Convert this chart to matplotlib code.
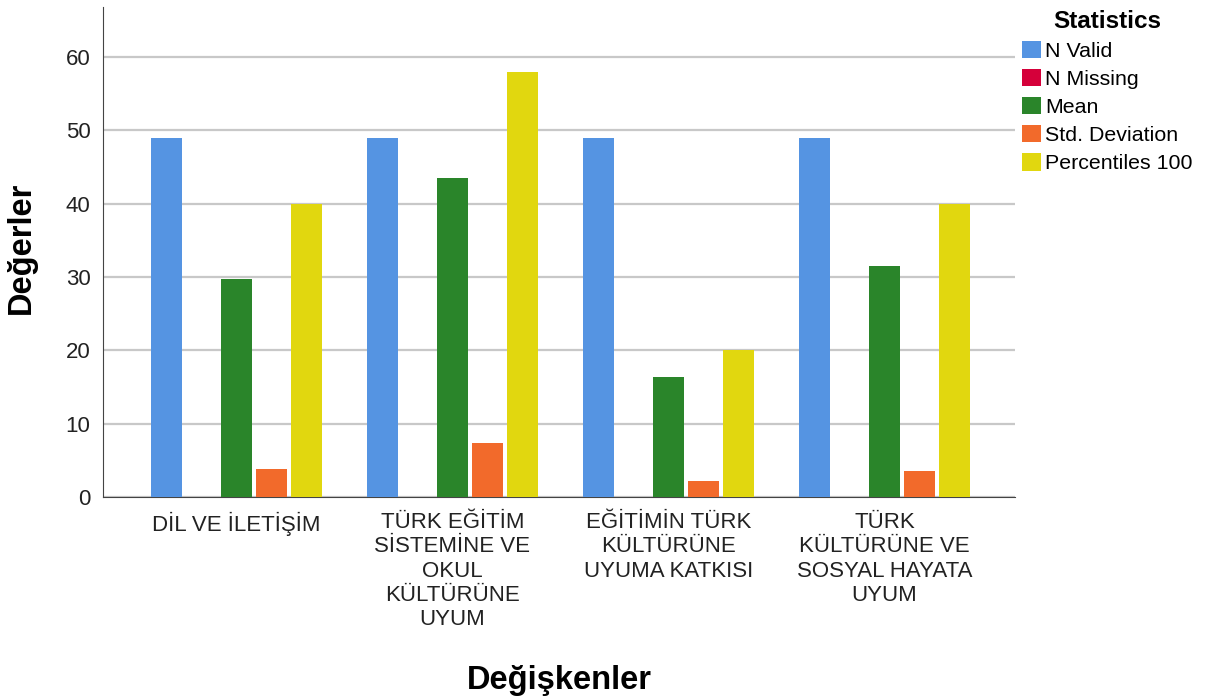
import matplotlib
matplotlib.use("Agg")
import matplotlib.pyplot as plt
import numpy as np

categories = ["DİL VE İLETİŞİM",
              "TÜRK EĞİTİM\nSİSTEMİNE VE\nOKUL\nKÜLTÜRÜNE\nUYUM",
              "EĞİTİMİN TÜRK\nKÜLTÜRÜNE\nUYUMA KATKISI",
              "TÜRK\nKÜLTÜRÜNE VE\nSOSYAL HAYATA\nUYUM"]
series_names = ["N Valid", "N Missing", "Mean", "Std. Deviation", "Percentiles 100"]
n_valid = [49, 49, 49, 49]
n_missing = [0, 0, 0, 0]
mean = [29.7, 43.5, 16.4, 31.5]
std_dev = [3.8, 7.3, 2.2, 3.5]
pct100 = [40, 58, 20, 40]
colors = ["#5594E2", "#D5003A", "#2A852A", "#F26A2B", "#E1D70F"]

plt.rcParams['font.family'] = ['Liberation Sans', 'DejaVu Sans']

fig = plt.figure(figsize=(12.09, 7.0), dpi=100)
ax = fig.add_axes([0.0852, 0.29, 0.7543, 0.70])

values = [n_valid, n_missing, mean, std_dev, pct100]
x = np.arange(len(categories))
w = 0.1435
step = 0.162
for i, (name, vals, c) in enumerate(zip(series_names, values, colors)):
    ax.bar(x + (i - 2) * step, vals, width=w, color=c, label=name, zorder=3)

ax.set_xlim(-0.618, 3.604)
ax.set_ylim(0, 66.8)
ax.set_yticks([0, 10, 20, 30, 40, 50, 60])
ax.yaxis.grid(True, color="#C8C8C8", linewidth=1.6, zorder=0)
ax.set_axisbelow(True)
for s in ["top", "right"]:
    ax.spines[s].set_visible(False)
ax.spines["left"].set_color("#444444")
ax.spines["bottom"].set_color("#444444")
ax.tick_params(axis="both", length=0, labelsize=16, colors="#222222")
ax.tick_params(axis="y", pad=9)
ax.set_xticks(x)
ax.set_xticklabels(categories, fontsize=16, linespacing=1.2, va="top")
ax.tick_params(axis="x", pad=11)

fig.text(0.018, 0.646, "Değerler", rotation=90, fontsize=23.5, fontweight="bold",
         ha="center", va="center")
fig.text(0.463, 0.028, "Değişkenler", fontsize=23.5, fontweight="bold",
         ha="center", va="center")

leg = ax.legend(loc="upper left", bbox_to_anchor=(1.0, 1.009), frameon=False,
                fontsize=15.4, title="Statistics", handlelength=0.85, handleheight=0.85,
                handletextpad=0.2, labelspacing=0.38, borderaxespad=0.25,
                borderpad=0.1)
leg.get_title().set_fontweight("bold")
leg.get_title().set_fontsize(17.5)

fig.savefig("out.png", dpi=100)
